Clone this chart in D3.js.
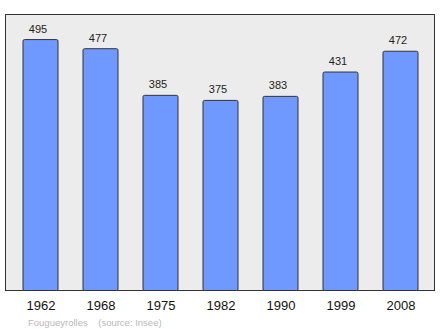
<!DOCTYPE html>
<html><head><meta charset="utf-8">
<script src="https://cdn.jsdelivr.net/npm/d3@7"></script>
<style>body{margin:0;background:#fff}svg{display:block}</style>
</head><body>
<script>
const years = ["1962","1968","1975","1982","1990","1999","2008"];
const population = [495,477,385,375,383,431,472];
const footerText = "Fougueyrolles    (source: Insee)";

const W = 440, H = 329;
const svg = d3.select("body").append("svg").attr("width", W).attr("height", H);
const frame = {x0: 5.5, x1: 434.5, y0: 14.5, y1: 290.5};

svg.append("rect").attr("x", frame.x0).attr("y", frame.y0)
  .attr("width", frame.x1 - frame.x0).attr("height", frame.y1 - frame.y0)
  .attr("fill", "#ececec").attr("stroke", "#333").attr("stroke-width", 1);

const xs = d3.scalePoint().domain(years).range([40.5, 400.5]);
const y = d3.scaleLinear().domain([0, 544.5]).range([frame.y1, frame.y0]);
const bw = 35;

svg.selectAll("rect.bar").data(population).join("rect").attr("class","bar")
  .attr("x", (d,i) => xs(years[i]) - bw/2)
  .attr("y", d => y(d))
  .attr("width", bw)
  .attr("height", d => frame.y1 - y(d))
  .attr("rx", 1.5)
  .attr("fill", "#7099ff").attr("stroke", "#333").attr("stroke-width", 1);

svg.selectAll("text.val").data(population).join("text").attr("class","val")
  .attr("x", (d,i) => xs(years[i]) - 2.5)
  .attr("y", d => y(d) - 7)
  .attr("text-anchor","middle")
  .attr("font-family","'Liberation Sans', Arial, sans-serif")
  .attr("font-size", 11).attr("fill","#222")
  .text(d => d);

const axis = d3.axisBottom(xs).tickSize(0).tickPadding(0);
const g = svg.append("g").attr("transform", `translate(0,${frame.y1})`).call(axis);
g.select(".domain").remove();
g.selectAll("text").attr("dy", null).attr("y", 19.5)
  .attr("font-family","'Liberation Sans', Arial, sans-serif")
  .attr("font-size", 13).attr("fill","#111");

svg.append("text").attr("x", 28).attr("y", 325.5)
  .attr("font-family","'Liberation Sans', Arial, sans-serif")
  .attr("font-size", 9.5).attr("fill","#b8b8b8")
  .attr("xml:space","preserve").style("white-space","pre")
  .text(footerText);
</script>
</body></html>
